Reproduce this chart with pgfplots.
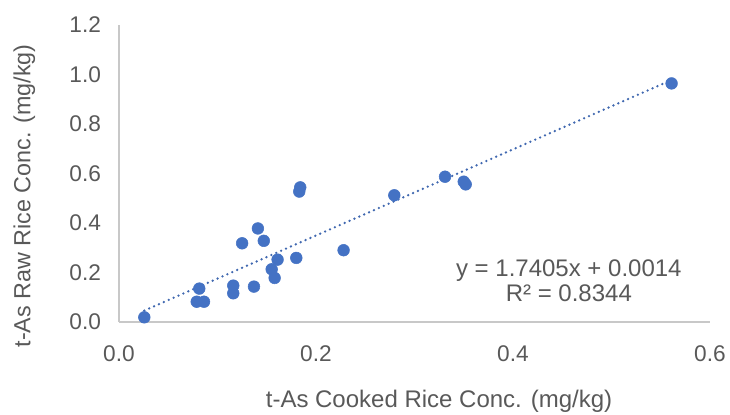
\documentclass[border=0pt]{standalone}
\usepackage{pgfplots}
\pgfplotsset{compat=1.18}
\usepackage{fontspec}
\setmainfont{Liberation Sans}
\definecolor{ser}{HTML}{4472C4}
\definecolor{trd}{HTML}{4068B0}
\definecolor{txt}{HTML}{595959}
\definecolor{axl}{HTML}{C8C8C8}
\begin{document}
\begin{tikzpicture}
\begin{axis}[
  name=ax,
  scale only axis,
  width=443.25pt, height=222.75pt,
  xmin=0, xmax=0.6, ymin=0, ymax=1.2,
  xtick={0,0.2,...,0.6}, ytick={0,0.2,...,1.2},
  axis lines*=left,
  axis line style={axl, line width=1pt, -},
  tick style={draw=none},
  /pgf/number format/assume math mode=true,
  /pgf/number format/.cd, fixed, fixed zerofill, precision=1,
  /pgfplots/.cd,
  tick label style={font=\fontsize{17}{20}\selectfont, text=txt},
  xticklabel style={yshift=-14pt},
  yticklabel style={xshift=-10pt},
  xlabel={t-As Cooked Rice Conc. (mg/kg)},
  ylabel={t-As Raw Rice Conc. (mg/kg)},
  label style={font=\fontsize{18}{21}\selectfont, text=txt},
  xlabel style={at={([xshift=240pt,yshift=-64.3pt]rel axis cs:0,0)}, anchor=base},
  ylabel style={at={([xshift=-66.5pt,yshift=94.5pt]rel axis cs:0,0)}, anchor=base, font=\fontsize{17.5}{21}\selectfont},
  clip=false,
]
\addplot[trd, line width=2pt, line cap=round, dash pattern=on 0pt off 4pt] coordinates {(0.0257,0.0461) (0.561,0.9778)};
\addplot[only marks, mark=*, mark size=4.4pt, mark options={fill=ser, draw=ser}] coordinates {
(0.0257,0.019) (0.0815,0.135) (0.0789,0.082) (0.0863,0.082)
(0.116,0.147) (0.116,0.116) (0.137,0.143) (0.125,0.318)
(0.141,0.378) (0.147,0.328) (0.161,0.252) (0.155,0.213)
(0.158,0.178) (0.180,0.259) (0.184,0.544) (0.183,0.527)
(0.228,0.290) (0.2795,0.512) (0.331,0.587) (0.350,0.567)
(0.352,0.556) (0.561,0.964)
};
\node[anchor=base, text=txt, font=\fontsize{18}{21}\selectfont] at (axis cs:0.4567,0.183) {y = 1.7405x + 0.0014};
\node[anchor=base, text=txt, font=\fontsize{18}{21}\selectfont] at (axis cs:0.4567,0.082) {R² = 0.8344};
\end{axis}
\pgfresetboundingbox
\path[use as bounding box] ([xshift=-89.25pt,yshift=-69pt]ax.south west) rectangle ([xshift=15pt,yshift=18.75pt]ax.north east);
\end{tikzpicture}
\end{document}
